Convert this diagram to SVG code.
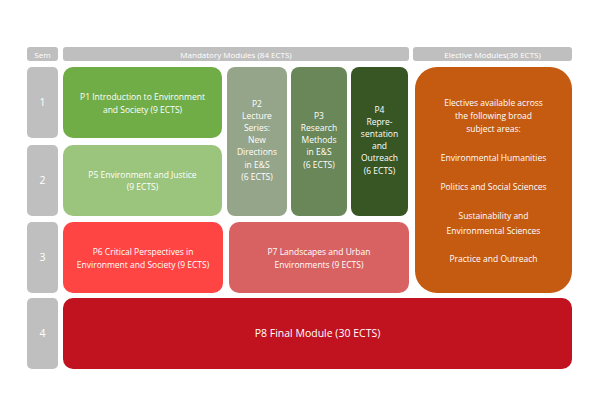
<svg xmlns="http://www.w3.org/2000/svg" width="600" height="400" viewBox="0 0 600 400">
<style>
text{font-family:"Open Sans","Liberation Sans",sans-serif;fill:#fff;text-anchor:middle;font-size:8.5px}
.h{font-size:8px}
.n{font-size:10.5px}
</style>
<rect width="600" height="400" fill="#fff"/>
<g id="headers" fill="#bfbfbf">
<rect x="27" y="47" width="31" height="14" rx="3"/>
<rect x="63" y="47" width="346" height="14" rx="3"/>
<rect x="413" y="47" width="159" height="14" rx="3"/>
<text class="h" x="42.5" y="57.5">Sem</text>
<text class="h" x="236" y="57.5">Mandatory Modules (84 ECTS)</text>
<text class="h" x="492.5" y="57.5">Elective Modules(36 ECTS)</text>
</g>
<g id="sems" fill="#bfbfbf">
<rect x="27" y="67" width="31" height="71" rx="5"/>
<rect x="27" y="145" width="31" height="71" rx="5"/>
<rect x="27" y="222" width="31" height="71" rx="5"/>
<rect x="27" y="298" width="31" height="71" rx="5"/>
<text class="n" x="42.5" y="106">1</text>
<text class="n" x="42.5" y="184">2</text>
<text class="n" x="42.5" y="261">3</text>
<text class="n" x="42.5" y="337">4</text>
</g>
<g id="p1"><rect x="63" y="67" width="159" height="71" rx="10" fill="#70ad47"/>
<text x="142.5" y="100">P1 Introduction to Environment</text><text x="142.5" y="113">and Society (9 ECTS)</text></g>
<g id="p5"><rect x="63" y="145" width="159" height="71" rx="10" fill="#9bc57d"/>
<text x="142.5" y="178">P5 Environment and Justice</text><text x="142.5" y="190">(9 ECTS)</text></g>
<g id="p2"><rect x="227" y="67" width="60" height="149" rx="8" fill="#95a58a"/>
<text x="257" y="107">P2</text><text x="257" y="119">Lecture</text><text x="257" y="131">Series:</text><text x="257" y="143">New</text><text x="257" y="155">Directions</text><text x="257" y="168">in E&amp;S</text><text x="257" y="180">(6 ECTS)</text></g>
<g id="p3"><rect x="291" y="67" width="56" height="149" rx="8" fill="#6a8759"/>
<text x="319" y="119">P3</text><text x="319" y="131">Research</text><text x="319" y="143">Methods</text><text x="319" y="155">in E&amp;S</text><text x="319" y="168">(6 ECTS)</text></g>
<g id="p4"><rect x="351" y="67" width="57" height="149" rx="8" fill="#375623"/>
<text x="379.5" y="113">P4</text><text x="379.5" y="125">Repre-</text><text x="379.5" y="137">sentation</text><text x="379.5" y="149">and</text><text x="379.5" y="161">Outreach</text><text x="379.5" y="174">(6 ECTS)</text></g>
<g id="electives"><rect x="415" y="67" width="157" height="226" rx="22" fill="#c55a11"/>
<text x="493.5" y="106">Electives available across</text><text x="493.5" y="119">the following broad</text><text x="493.5" y="132">subject areas:</text>
<text x="493.5" y="161">Environmental Humanities</text>
<text x="493.5" y="190">Politics and Social Sciences</text>
<text x="493.5" y="219">Sustainability and</text><text x="493.5" y="234">Environmental Sciences</text>
<text x="493.5" y="262">Practice and Outreach</text></g>
<g id="p6"><rect x="63" y="222" width="160" height="71" rx="10" fill="#ff4444"/>
<text x="143" y="255">P6 Critical Perspectives in</text><text x="143" y="268">Environment and Society (9 ECTS)</text></g>
<g id="p7"><rect x="229" y="222" width="180" height="71" rx="10" fill="#d86262"/>
<text x="319" y="255">P7 Landscapes and Urban</text><text x="319" y="268">Environments (9 ECTS)</text></g>
<g id="p8"><rect x="63" y="298" width="509" height="71" rx="10" fill="#c0121f"/>
<text class="n" x="317.5" y="337">P8 Final Module (30 ECTS)</text></g>
<g id="connectors"/>
</svg>
